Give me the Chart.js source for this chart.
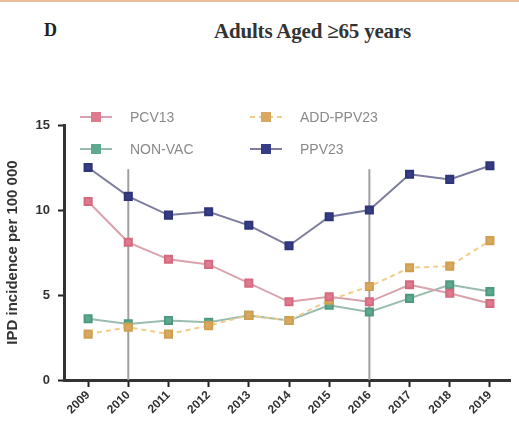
<!DOCTYPE html>
<html>
<head>
<meta charset="utf-8">
<script src="https://cdn.jsdelivr.net/npm/chart.js@4"></script>
<style>
  html, body { margin: 0; padding: 0; background: #fff; }
  body { width: 519px; height: 421px; position: relative; overflow: hidden; border-top: 2px solid #e8c0a0; box-sizing: border-box; }
  #panel { position: absolute; left: 44px; top: 18px; font: bold 18px "Liberation Serif", serif; color: #222; }
  #title { position: absolute; left: 180px; top: 17px; width: 265px; text-align: center; font: bold 21px "Liberation Serif", serif; color: #333; letter-spacing: -0.2px; }
  #wrap { position: absolute; left: 0; top: 0; width: 519px; height: 421px; }
</style>
</head>
<body>
<div id="panel">D</div>
<div id="title">Adults Aged ≥65 years</div>
<div id="wrap"><canvas id="Chart"></canvas></div>
<script>
// Datos
const years = [2009, 2010, 2011, 2012, 2013, 2014, 2015, 2016, 2017, 2018, 2019];
const pcv13 = [10.5, 8.1, 7.1, 6.8, 5.7, 4.6, 4.9, 4.6, 5.6, 5.1, 4.5];
const addPpv23 = [2.7, 3.1, 2.7, 3.2, 3.8, 3.5, 4.7, 5.5, 6.6, 6.7, 8.2];
const nonVac = [3.6, 3.3, 3.5, 3.4, 3.8, 3.5, 4.4, 4.0, 4.8, 5.6, 5.2];
const ppv23 = [12.5, 10.8, 9.7, 9.9, 9.1, 7.9, 9.6, 10.0, 12.1, 11.8, 12.6];
const yTicks = [0, 5, 10, 15];
const markerYears = [2010, 2016];
const markerTop = 12.4;

const toPoints = (vals) => vals.map((v, i) => ({ x: years[i], y: v }));

// Lineas verticales
const vLines = {
  id: "vLines",
  beforeDatasetsDraw(chart) {
    const { ctx, scales } = chart;
    ctx.save();
    ctx.strokeStyle = "#a0a0a0";
    ctx.lineWidth = 2;
    markerYears.forEach((yr) => {
      const x = scales.x.getPixelForValue(yr);
      ctx.beginPath();
      ctx.moveTo(x, scales.y.getPixelForValue(markerTop));
      ctx.lineTo(x, scales.y.getPixelForValue(0));
      ctx.stroke();
    });
    ctx.restore();
  }
};

// Leyenda en dos columnas
const legend2 = {
  id: "legend2",
  afterDraw(chart) {
    const { ctx } = chart;
    const colX = [80, 250];
    const rowY = [115, 147];
    ctx.save();
    chart.data.datasets.forEach((ds, i) => {
      const x0 = colX[i % 2];
      const y0 = rowY[Math.floor(i / 2)];
      ctx.strokeStyle = ds.borderColor;
      ctx.lineWidth = 2;
      ctx.setLineDash(ds.borderDash || []);
      ctx.beginPath();
      ctx.moveTo(x0, y0);
      ctx.lineTo(x0 + 32, y0);
      ctx.stroke();
      ctx.setLineDash([]);
      ctx.fillStyle = ds.pointBackgroundColor;
      ctx.fillRect(x0 + 11, y0 - 5, 10, 10);
      ctx.fillStyle = "#8a8a8a";
      ctx.font = "14px 'Liberation Sans', Arial, sans-serif";
      ctx.textBaseline = "middle";
      ctx.fillText(ds.label, x0 + 50, y0 + 1);
    });
    ctx.restore();
  }
};

const ctx = document.getElementById("Chart");
new Chart(ctx, {
  type: "line",
  data: {
    datasets: [
      {
        label: "PCV13",
        data: toPoints(pcv13),
        borderColor: "#d9a3ad",
        pointBackgroundColor: "#e07a8e",
        pointBorderColor: "#d46a80",
        borderWidth: 2,
        pointStyle: "rect",
        pointRadius: 5
      },
      {
        label: "ADD-PPV23",
        data: toPoints(addPpv23),
        borderColor: "#f2cc8a",
        borderDash: [5, 4],
        pointBackgroundColor: "#d8a860",
        pointBorderColor: "#d0a050",
        borderWidth: 2,
        pointStyle: "rect",
        pointRadius: 5
      },
      {
        label: "NON-VAC",
        data: toPoints(nonVac),
        borderColor: "#98bcae",
        pointBackgroundColor: "#5ea88e",
        pointBorderColor: "#4e9a80",
        borderWidth: 2,
        pointStyle: "rect",
        pointRadius: 5
      },
      {
        label: "PPV23",
        data: toPoints(ppv23),
        borderColor: "#7d7d9e",
        pointBackgroundColor: "#363c86",
        pointBorderColor: "#2e3478",
        borderWidth: 2,
        pointStyle: "rect",
        pointRadius: 5
      }
    ]
  },
  options: {
    responsive: true,
    maintainAspectRatio: false,
    animation: false,
    layout: { padding: { top: 123, right: 9, left: 4, bottom: 0 } },
    plugins: {
      legend: { display: false },
      tooltip: { enabled: false }
    },
    scales: {
      x: {
        type: "linear",
        min: 2008.4,
        max: 2019.5,
        afterBuildTicks(scale) {
          scale.ticks = years.map((v) => ({ value: v }));
        },
        afterFit(scale) { scale.height = 43; },
        grid: {
          display: true,
          drawOnChartArea: false,
          drawTicks: true,
          tickLength: 7,
          tickWidth: 2,
          tickColor: "#222"
        },
        border: { display: true, color: "#333", width: 3 },
        ticks: {
          minRotation: 45,
          maxRotation: 45,
          padding: 1,
          color: "#333",
          font: { family: "'Liberation Sans', Arial", size: 12, weight: "bold" },
          callback: (v) => String(v)
        }
      },
      y: {
        min: 0,
        max: 15,
        afterBuildTicks(scale) {
          scale.ticks = yTicks.map((v) => ({ value: v }));
        },
        afterFit(scale) { scale.width = 60; },
        grid: {
          display: true,
          drawOnChartArea: false,
          drawTicks: true,
          tickLength: 6,
          tickWidth: 2,
          tickColor: "#222"
        },
        border: { display: true, color: "#333", width: 3 },
        ticks: {
          padding: 8,
          color: "#333",
          font: { family: "'Liberation Sans', Arial", size: 13, weight: "bold" }
        },
        title: {
          display: true,
          text: "IPD incidence per 100 000",
          color: "#333",
          padding: { top: 0, bottom: 0 },
          font: { family: "'Liberation Sans', Arial", size: 15, weight: "bold" }
        }
      }
    }
  },
  plugins: [vLines, legend2]
});
</script>
</body>
</html>
